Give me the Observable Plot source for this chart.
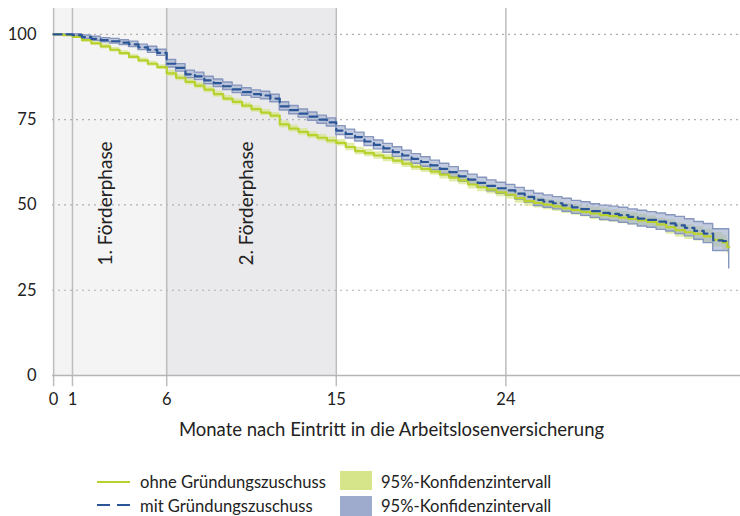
<!DOCTYPE html>
<html><head><meta charset="utf-8">
<script src="https://cdn.jsdelivr.net/npm/d3@7"></script>
<script src="https://cdn.jsdelivr.net/npm/@observablehq/plot@0.6"></script>
<style>
body{margin:0;background:#fff;font-family:Lato,sans-serif;color:#222;}
#wrap{position:relative;width:740px;height:516px;overflow:hidden;}
#legend{position:absolute;left:0;top:460px;width:740px;height:56px;font-size:16.6px;color:#222;}
#legend .t{position:absolute;height:20px;line-height:20px;white-space:nowrap;}
#legend .sw{position:absolute;width:32px;}
</style></head><body>
<div id="wrap"><div id="chart"></div>
<div id="legend">
  <div style="position:absolute;left:97px;top:21px;width:33px;height:2px;background:#b9d12f"></div>
  <div class="t" style="left:140px;top:12px">ohne Gründungszuschuss</div>
  <svg style="position:absolute;left:97px;top:40px" width="34" height="10"><line x1="0" x2="33" y1="5" y2="5" stroke="#2a5597" stroke-width="2.2" stroke-dasharray="13,7"/></svg>
  <div class="t" style="left:140px;top:36px">mit Gründungszuschuss</div>
  <div class="sw" style="left:340px;top:11px;height:19px;background:#d6e48a"></div>
  <div class="t" style="left:381px;top:12px">95%-Konfidenzintervall</div>
  <div class="sw" style="left:340px;top:36px;height:20px;background:#9eabcc"></div>
  <div class="t" style="left:381px;top:36px">95%-Konfidenzintervall</div>
</div></div>
<script>
const months = [0,0.5,1,1.5,2,2.5,3,3.5,4,4.5,5,5.5,6,6.5,7,7.5,8,8.5,9,9.5,10,10.5,11,11.5,12,12.5,13,13.5,14,14.5,15,15.5,16,16.5,17,17.5,18,18.5,19,19.5,20,20.5,21,21.5,22,22.5,23,23.5,24,24.5,25,25.5,26,26.5,27,27.5,28,28.5,29,29.5,30,30.5,31,31.5,32,32.5,33,33.5,34,34.5,35,35.5,35.75,35.85];

const ohneMean = [100,99.8,99.3,98.3,97.4,96.5,95.5,94.5,93.4,92.4,91.4,90.4,88.6,87.3,86.1,85.0,83.8,82.5,81.2,80.2,79.1,78.1,77.1,76.2,73.6,72.4,71.4,70.5,69.7,68.9,68.2,67.0,65.8,65.2,64.5,63.8,63.0,62.1,61.2,60.6,59.8,58.9,58.0,57.2,56.0,55.2,54.5,53.7,53.0,52.0,51.1,50.6,50.1,49.6,49.0,48.5,48.0,47.5,47.0,46.7,46.3,45.9,45.5,45.0,44.3,43.5,42.6,42.0,41.5,40.8,39.8,39.0,37.6,37.6];
const ohneLow = [100,99.7,99.0,97.8,96.9,95.8,94.8,93.8,92.7,91.7,90.7,89.7,87.7,86.4,85.2,84.1,82.9,81.6,80.3,79.3,78.2,77.2,76.2,75.3,72.6,71.4,70.4,69.5,68.7,67.9,67.2,65.9,64.7,64.1,63.4,62.7,61.9,61.0,60.1,59.5,58.7,57.6,56.7,55.9,54.7,53.9,53.2,52.4,51.7,50.5,49.6,49.1,48.6,48.1,47.5,47.0,46.5,45.7,45.2,44.9,44.5,44.1,43.7,43.2,42.5,41.4,40.5,39.9,39.4,38.7,37.7,36.9,35.6,35.6];
const ohneHigh = [100,99.9,99.6,98.8,97.9,97.2,96.2,95.2,94.1,93.1,92.1,91.1,89.5,88.2,87.0,85.9,84.7,83.4,82.1,81.1,80.0,79.0,78.0,77.1,74.6,73.4,72.4,71.5,70.7,69.9,69.2,68.1,66.9,66.3,65.6,64.9,64.1,63.2,62.3,61.7,60.9,60.2,59.3,58.5,57.3,56.5,55.8,55.0,54.3,53.5,52.6,52.1,51.6,51.1,50.5,50.0,49.5,49.3,48.8,48.5,48.1,47.7,47.3,46.8,46.1,45.6,44.7,44.1,43.6,42.9,41.9,41.1,39.8,39.8];

const mitMean = [100,100,99.8,99.2,98.7,98.3,98.0,97.6,97.1,96.2,95.5,94.6,91.4,90.2,88.3,87.7,86.5,85.7,84.8,83.9,83.1,82.5,82.1,81.2,78.9,77.8,76.8,75.9,75.0,74.2,71.8,70.8,69.9,68.6,67.6,66.6,65.5,64.5,63.5,62.6,61.6,60.6,59.6,58.4,57.4,56.5,55.6,54.9,54.3,53.3,52.4,51.5,51.0,50.5,49.9,49.3,48.8,48.2,47.7,47.4,47.0,46.5,46.0,45.6,45.1,44.6,44.0,43.3,42.4,41.6,39.6,39.4,39.1,39.1];
const mitLow = [100,99.8,99.5,98.7,98.1,97.7,97.3,96.9,96.3,95.4,94.6,93.7,90.3,89.1,87.2,86.6,85.4,84.6,83.7,82.8,82.0,81.4,81.0,80.1,77.7,76.6,75.6,74.7,73.8,73.0,70.5,69.5,68.6,67.3,66.3,65.3,64.1,63.1,62.1,61.2,60.2,59.1,58.1,56.9,55.9,55.0,54.0,53.3,52.7,51.6,50.7,49.7,49.2,48.7,48.0,47.4,46.8,46.2,45.6,45.3,44.8,44.3,43.7,43.3,42.7,42.2,41.5,40.8,39.8,38.8,36.5,36.5,36.5,31.4];
const mitHigh = [100,100,100.1,99.7,99.3,98.9,98.7,98.3,97.9,97.0,96.4,95.5,92.5,91.3,89.4,88.8,87.6,86.8,85.9,85.0,84.2,83.6,83.2,82.3,80.1,79.0,78.0,77.1,76.2,75.4,73.1,72.1,71.2,69.9,68.9,67.9,66.9,65.9,64.9,64.0,63.0,62.1,61.1,59.9,58.9,58.0,57.2,56.5,55.9,55.0,54.1,53.3,52.8,52.3,51.8,51.2,50.8,50.2,49.8,49.5,49.2,48.7,48.3,47.9,47.5,47.0,46.5,45.8,45.0,44.4,42.9,42.9,42.9,42.9];

const xTicks = [0,1,6,15,24];
const yTicks = [0,25,50,75,100];
const gridValues = [25,50,75,100];
const phaseStart = [0,6];
const phaseEnd = [6,15];
const phaseLabels = ["1. Förderphase","2. Förderphase"];
const phaseFills = ["#f4f4f5","#eaeaed"];
const xLabel = "Monate nach Eintritt in die Arbeitslosenversicherung";

const ohne = months.map((t,i)=>({t, m: ohneMean[i], lo: ohneLow[i], hi: ohneHigh[i]}));
const mit = months.map((t,i)=>({t, m: mitMean[i], lo: mitLow[i], hi: mitHigh[i]}));
const phases = phaseLabels.map((label,i)=>({label, x1: phaseStart[i], x2: phaseEnd[i], xm: (phaseStart[i]+phaseEnd[i])/2, fill: phaseFills[i]}));

const chart = Plot.plot({
  width: 740, height: 460,
  marginLeft: 52, marginRight: 0, marginTop: 8, marginBottom: 85,
  x: {domain: [-0.06, 36.45]},
  y: {domain: [0, 107.6]},
  style: {fontFamily: "Lato, sans-serif", fontSize: "16px", color: "#222", background: "#fff"},
  marks: [
    Plot.rectX(phases, {x1: "x1", x2: "x2", y1: 0, y2: 107.6, fill: "fill"}),
    Plot.ruleY(gridValues, {stroke: "#b0b0b0", strokeWidth: 1.2, strokeDasharray: "2,4"}),
    Plot.ruleX(xTicks, {y1: -3.3, y2: 107.6, stroke: "#bdbdbd", strokeWidth: 1.5}),
    Plot.ruleY([0], {stroke: "#b5b5b5", strokeWidth: 1.5}),
    Plot.areaY(ohne, {x: "t", y1: "lo", y2: "hi", curve: "step-after", fill: "#d6e48a", fillOpacity: 0.7}),
    Plot.areaY(mit, {x: "t", y1: "lo", y2: "hi", curve: "step-after", fill: "#9eabcc", fillOpacity: 0.62, stroke: "#8696bd", strokeWidth: 1.4}),
    Plot.line(ohne, {x: "t", y: "m", curve: "step-after", stroke: "#b9d12f", strokeWidth: 2.2}),
    Plot.line(mit, {x: "t", y: "m", curve: "step-after", stroke: "#2a5597", strokeWidth: 2.2, strokeDasharray: "8,5"}),
    Plot.text(phases, {x: "xm", text: "label", frameAnchor: "bottom", dy: -110, dx: 2, rotate: -90, textAnchor: "start", fontSize: 19, fill: "#222"}),
    Plot.axisY({ticks: yTicks, tickSize: 0, tickPadding: 16, label: null, fontSize: 16.5}),
    Plot.axisX({ticks: xTicks, tickSize: 0, tickPadding: 18, label: null, fontSize: 16.5}),
    Plot.text([xLabel], {frameAnchor: "bottom", dy: 60, dx: -5, fontSize: 18.5, fill: "#222"})
  ]
});
document.getElementById("chart").appendChild(chart);
</script>
</body></html>
